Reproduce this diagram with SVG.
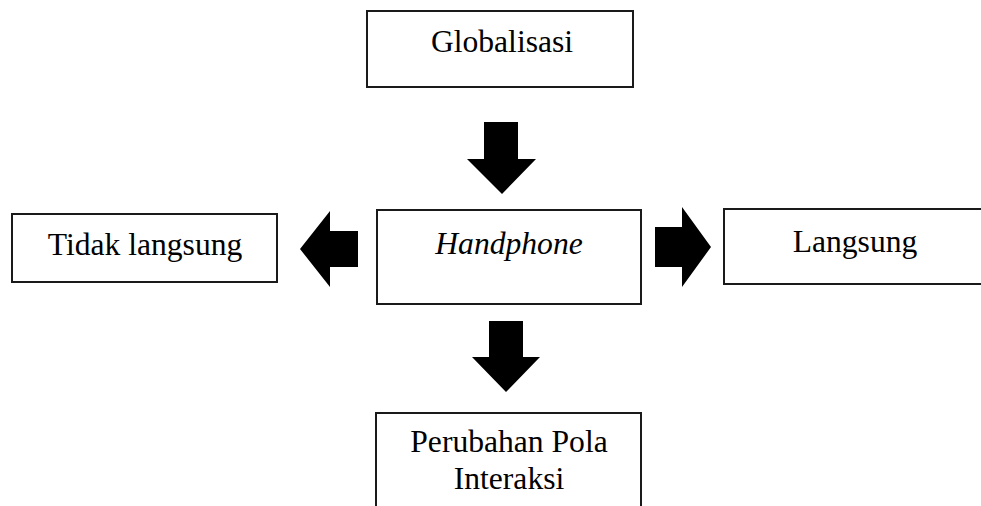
<svg xmlns="http://www.w3.org/2000/svg" width="981" height="506" viewBox="0 0 981 506">
<style>
.box{fill:#fff;stroke:#1a1a1a;stroke-width:2}
.t{font-family:"Liberation Serif","Times New Roman",serif;font-size:31.6px;fill:#000;text-anchor:middle}
.arr{fill:#000;stroke:none}
</style>
<rect width="981" height="506" fill="#fff"/>
<g id="globalisasi">
<rect class="box" x="367" y="11" width="266" height="76"/>
<text class="t" x="502" y="52">Globalisasi</text>
</g>
<g id="handphone">
<rect class="box" x="377" y="210" width="264" height="94"/>
<text class="t" x="509" y="254" font-style="italic">Handphone</text>
</g>
<g id="tidak-langsung">
<rect class="box" x="12" y="214" width="265" height="68"/>
<text class="t" x="145" y="255">Tidak langsung</text>
</g>
<g id="langsung">
<rect class="box" x="724" y="209" width="270" height="75"/>
<text class="t" x="855" y="252">Langsung</text>
</g>
<g id="perubahan">
<rect class="box" x="376" y="413" width="265" height="110"/>
<text class="t" x="509" y="452">Perubahan Pola</text>
<text class="t" x="509" y="489">Interaksi</text>
</g>
<g id="connectors">
<polygon class="arr" points="484,122 518,122 518,159 536,159 502,194 467,159 484,159"/>
<polygon class="arr" points="489,321 523,321 523,357 540,357 506,392 472,357 489,357"/>
<polygon class="arr" points="358,231 358,267 330,267 330,287 300,249 330,211 330,231"/>
<polygon class="arr" points="655,227 682,227 682,207 711,247 682,287 682,267 655,267"/>
</g>
</svg>
